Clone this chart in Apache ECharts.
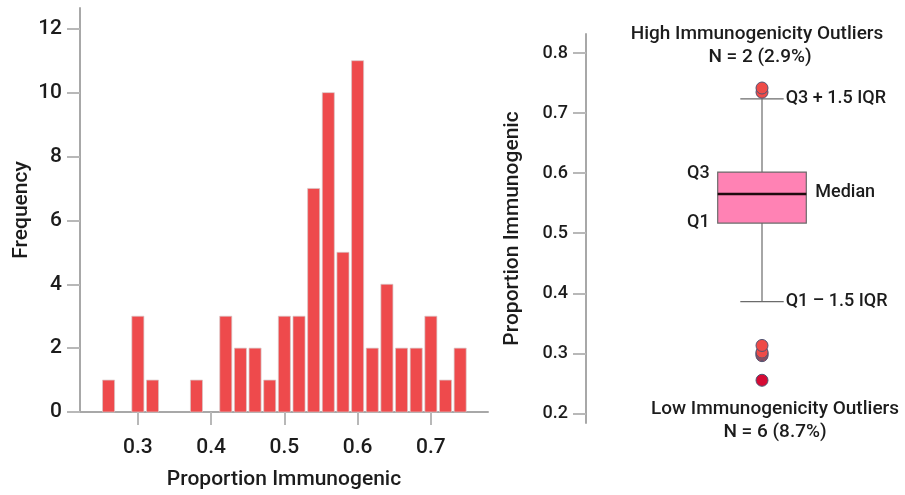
<!DOCTYPE html>
<html>
<head>
<meta charset="utf-8">
<script src="https://cdn.jsdelivr.net/npm/echarts@6/dist/echarts.min.js"></script>
<style>
html, body { margin: 0; padding: 0; background: #fff; }
#chart { width: 905px; height: 495px; }
</style>
</head>
<body>
<div id="chart"></div>
<script>
// histogram bins (centre of each 0.02 wide bin) and counts
var binCenters = [0.26, 0.28, 0.30, 0.32, 0.34, 0.36, 0.38, 0.40, 0.42, 0.44, 0.46, 0.48, 0.50,
                  0.52, 0.54, 0.56, 0.58, 0.60, 0.62, 0.64, 0.66, 0.68, 0.70, 0.72, 0.74];
var binCounts  = [1, 0, 3, 1, 0, 0, 1, 0, 3, 2, 2, 1, 3, 3, 7, 10, 5, 11, 2, 4, 2, 2, 3, 1, 2];
var binWidth = 0.02;
var freqTicks = [0, 2, 4, 6, 8, 10, 12];
var propTicks = [0.3, 0.4, 0.5, 0.6, 0.7];

// box plot summary: [low whisker, Q1, median, Q3, high whisker]
var boxStats = [0.386, 0.517, 0.5655, 0.602, 0.724];
var highOutliers = [0.735, 0.742];
var lowOutliers = [0.255, 0.296, 0.298, 0.300, 0.302, 0.313];
var boxTicks = [0.2, 0.3, 0.4, 0.5, 0.6, 0.7, 0.8];

var FONT = 'Roboto';
var chart = echarts.init(document.getElementById('chart'), null, {renderer: 'canvas'});

//柱状图
function renderBin(params, api) {
    var c = api.value(0), n = api.value(1);
    if (!n) return;
    var p0 = api.coord([c - binWidth / 2, n]);
    var p1 = api.coord([c + binWidth / 2, 0]);
    var gap = 1.3;
    return {
        type: 'rect',
        shape: {x: p0[0] + gap, y: p0[1], width: p1[0] - p0[0] - 2 * gap, height: p1[1] - p0[1]},
        style: {fill: '#ee4a4c', stroke: 'rgba(215,200,200,0.7)', lineWidth: 1}
    };
}

//箱线图
function renderBox(params, api) {
    var lo = api.coord([0, api.value(1)]);
    var q1 = api.coord([0, api.value(2)]);
    var md = api.coord([0, api.value(3)]);
    var q3 = api.coord([0, api.value(4)]);
    var hi = api.coord([0, api.value(5)]);
    var cx = lo[0], half = 44.3, cap = 21.7;
    var lineStyle = {stroke: '#6b6b6b', lineWidth: 1.2};
    var textStyle = function (txt, x, y, align) {
        return {type: 'text', style: {text: txt, x: x, y: y, align: align, verticalAlign: 'middle',
            font: '500 18px ' + FONT, fill: '#1c1c1c'}};
    };
    return {
        type: 'group',
        children: [
            {type: 'line', shape: {x1: cx, y1: hi[1], x2: cx, y2: q3[1]}, style: lineStyle},
            {type: 'line', shape: {x1: cx, y1: q1[1], x2: cx, y2: lo[1]}, style: lineStyle},
            {type: 'line', shape: {x1: cx - cap, y1: hi[1], x2: cx + cap, y2: hi[1]}, style: lineStyle},
            {type: 'line', shape: {x1: cx - cap, y1: lo[1], x2: cx + cap, y2: lo[1]}, style: lineStyle},
            {type: 'rect', shape: {x: cx - half, y: q3[1], width: 2 * half, height: q1[1] - q3[1]},
                style: {fill: '#ff82b4', stroke: '#6b6b6b', lineWidth: 1.2}},
            {type: 'line', shape: {x1: cx - half, y1: md[1], x2: cx + half, y2: md[1]},
                style: {stroke: '#1e0a0e', lineWidth: 2.5}},
            textStyle('Q3 + 1.5 IQR', cx + cap + 2, hi[1], 'left'),
            textStyle('Q1 \u2013 1.5 IQR', cx + cap + 2, lo[1], 'left'),
            textStyle('Q3', cx - half - 8, q3[1] + 1, 'right'),
            textStyle('Q1', cx - half - 8, q1[1] - 1, 'right'),
            textStyle('Median', cx + half + 9, md[1] - 1, 'left')
        ]
    };
}

var axisLineStyle = {color: '#a8a8a8', width: 2};
var tickStyle = {color: '#b8b8b8', width: 2};
var labelColor = '#1c1c1c';

var option = {
    animation: false,
    textStyle: {fontFamily: FONT, fontWeight: 500},
    grid: [
        {left: 80, top: 8, width: 408, height: 405},
        {left: 619, top: 34, width: 286, height: 389}
    ],
    xAxis: [{
        gridIndex: 0, type: 'value', min: 0.221, max: 0.778,
        name: 'Proportion Immunogenic', nameLocation: 'middle', nameGap: 57,
        nameTextStyle: {fontSize: 21, color: labelColor, fontFamily: FONT, fontWeight: 500},
        axisLine: {lineStyle: axisLineStyle},
        axisTick: {show: true, length: 13, lineStyle: tickStyle, customValues: propTicks},
        axisLabel: {fontSize: 21, color: labelColor, fontWeight: 500, margin: 25, customValues: propTicks,
            formatter: function (v) { return v.toFixed(1); }},
        splitLine: {show: false}
    }, {
        gridIndex: 1, type: 'category', data: [''],
        axisLine: {show: false}, axisTick: {show: false}, axisLabel: {show: false}
    }],
    yAxis: [{
        gridIndex: 0, type: 'value', min: 0, max: 12.65,
        name: 'Frequency', nameLocation: 'middle', nameGap: 48,
        nameTextStyle: {fontSize: 21, color: labelColor, fontFamily: FONT, fontWeight: 500},
        axisLine: {show: true, lineStyle: axisLineStyle},
        axisTick: {show: true, length: 13, lineStyle: tickStyle, customValues: freqTicks},
        axisLabel: {fontSize: 21, color: labelColor, fontWeight: 500, margin: 18, customValues: freqTicks},
        splitLine: {show: false}
    }, {
        gridIndex: 1, type: 'value', min: 0.1838, max: 0.832, offset: 33,
        name: 'Proportion Immunogenic', nameLocation: 'middle', nameGap: 63,
        nameTextStyle: {fontSize: 21, color: labelColor, fontFamily: FONT, fontWeight: 500},
        axisLine: {show: true, lineStyle: axisLineStyle},
        axisTick: {show: true, length: 13, lineStyle: tickStyle, customValues: boxTicks},
        axisLabel: {fontSize: 18, color: labelColor, fontWeight: 500, margin: 18, customValues: boxTicks,
            formatter: function (v) { return v.toFixed(1); }},
        splitLine: {show: false}
    }],
    series: [{
        type: 'custom', xAxisIndex: 0, yAxisIndex: 0,
        renderItem: renderBin,
        data: binCenters.map(function (c, i) { return [c, binCounts[i]]; })
    }, {
        type: 'custom', xAxisIndex: 1, yAxisIndex: 1,
        renderItem: renderBox,
        data: [[0].concat(boxStats)]
    }, {
        type: 'scatter', xAxisIndex: 1, yAxisIndex: 1,
        symbolSize: 12,
        itemStyle: {
            opacity: 1,
            color: function (p) { return p.value[1] < 0.27 ? '#d50a34' : '#ee4b48'; },
            borderColor: function (p) { return p.value[1] < 0.27 ? '#c80a32' : '#7c1d1d'; },
            borderWidth: 1
        },
        data: highOutliers.concat(lowOutliers).map(function (v) { return [0, v]; })
    }],
    graphic: [
        {type: 'text', x: 757, y: 34, style: {text: 'High Immunogenicity Outliers', align: 'center',
            verticalAlign: 'middle', font: '500 19px ' + FONT, fill: labelColor}},
        {type: 'text', x: 760, y: 57, style: {text: 'N = 2 (2.9%)', align: 'center',
            verticalAlign: 'middle', font: '500 19px ' + FONT, fill: labelColor}},
        {type: 'text', x: 775, y: 409, style: {text: 'Low Immunogenicity Outliers', align: 'center',
            verticalAlign: 'middle', font: '500 19px ' + FONT, fill: labelColor}},
        {type: 'text', x: 775, y: 432, style: {text: 'N = 6 (8.7%)', align: 'center',
            verticalAlign: 'middle', font: '500 19px ' + FONT, fill: labelColor}}
    ]
};
chart.setOption(option);
</script>
</body>
</html>
